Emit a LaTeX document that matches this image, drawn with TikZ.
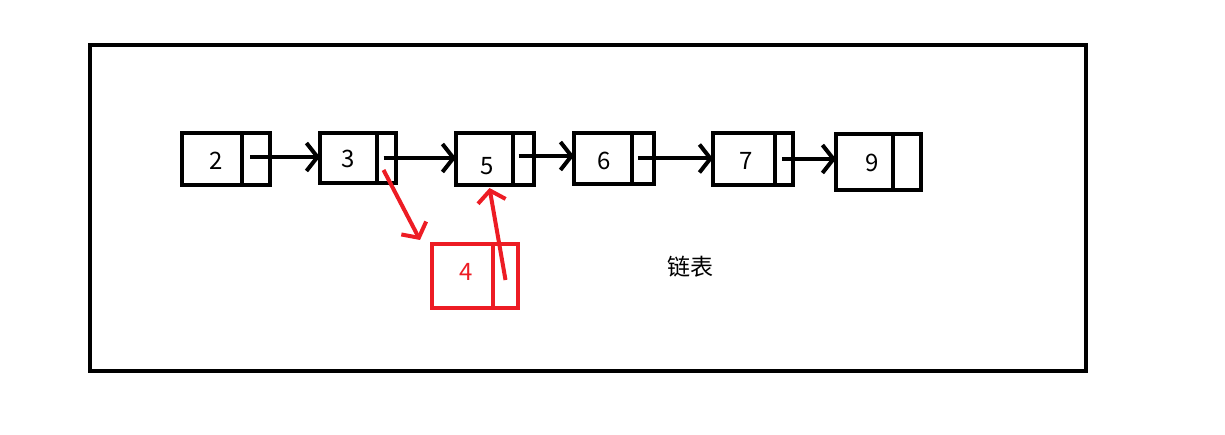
\documentclass[tikz,border=0pt]{standalone}
\usepackage{fontspec}
\setmainfont{Noto Sans CJK SC}
\usetikzlibrary{arrows.meta,calc}
\definecolor{pred}{HTML}{ED1C24}
\begin{document}
\begin{tikzpicture}[x=1pt,y=-1pt,
  cell/.style={draw,line width=4pt,rectangle,inner sep=0pt,outer sep=0pt},
  rcell/.style={cell,draw=pred,line width=3.5pt},
  num/.style={font=\fontsize{24}{24}\selectfont,inner sep=0pt},
  arr/.style={line width=4pt,-{Straight Barb[length=11pt,width=28pt]}},
  rarr/.style={arr,draw=pred}]
\useasboundingbox (0,0) rectangle (1225,435);
\node[draw,line width=4pt,minimum width=996pt,minimum height=326pt,inner sep=0pt] (frame) at (588,208) {};
% list nodes
\node[cell,minimum width=60pt,minimum height=52pt] (d2) at (212,159) {};
\node[cell,minimum width=28pt,minimum height=52pt] (p2) at (256,159) {};
\node[cell,minimum width=57pt,minimum height=50pt] (d3) at (348.5,158) {};
\node[cell,minimum width=19pt,minimum height=50pt] (p3) at (386.5,158) {};
\node[cell,minimum width=57pt,minimum height=52pt] (d5) at (484.5,159) {};
\node[cell,minimum width=21pt,minimum height=52pt] (p5) at (523.5,159) {};
\node[cell,minimum width=58pt,minimum height=51pt] (d6) at (603,158.5) {};
\node[cell,minimum width=22pt,minimum height=51pt] (p6) at (643,158.5) {};
\node[cell,minimum width=62pt,minimum height=52pt] (d7) at (744,159) {};
\node[cell,minimum width=18pt,minimum height=52pt] (p7) at (784,159) {};
\node[cell,minimum width=57pt,minimum height=56pt] (d9) at (864.5,162) {};
\node[cell,minimum width=28pt,minimum height=56pt] (p9) at (907,162) {};
\node[rcell,minimum width=61pt,minimum height=64pt] (d4) at (462.5,276) {};
\node[rcell,minimum width=25pt,minimum height=64pt] (p4) at (505.5,276) {};
% numbers
\node[num] (t2) at (216,161) {2};
\node[num] (t3) at (348,159) {3};
\node[num] (t5) at (487,166) {5};
\node[num] (t6) at (604,161) {6};
\node[num] (t7) at (746,161) {7};
\node[num] (t9) at (872,163) {9};
\node[num,text=pred] (t4) at (466,272) {4};
\node[font=\fontsize{23}{23}\selectfont,inner sep=0pt] (title) at (690,267) {链表};
% connectors
\draw[arr] ($(p2.center)+(-6,-2)$) -- (d3.west |- {$(p2.center)+(0,-2)$});
\draw[arr] ($(p3.center)+(-3,0)$) -- (d5.west |- p3.center);
\draw[arr] ($(p5.center)+(-5,-3)$) -- (d6.west |- {$(p5.center)+(0,-3)$});
\draw[arr] ($(p6.center)+(-5,0)$) -- (d7.west |- p6.center);
\draw[arr] ($(p7.center)+(-2,0)$) -- (d9.west |- p7.center);
\draw[rarr] ($(p3.center)+(-3,12)$) -- ($(d4.north west)+(-12,-4)$);
\draw[rarr] ($(p4.center)+(0,4)$) -- ($(d5.south)+(5,3)$);
\end{tikzpicture}
\end{document}
